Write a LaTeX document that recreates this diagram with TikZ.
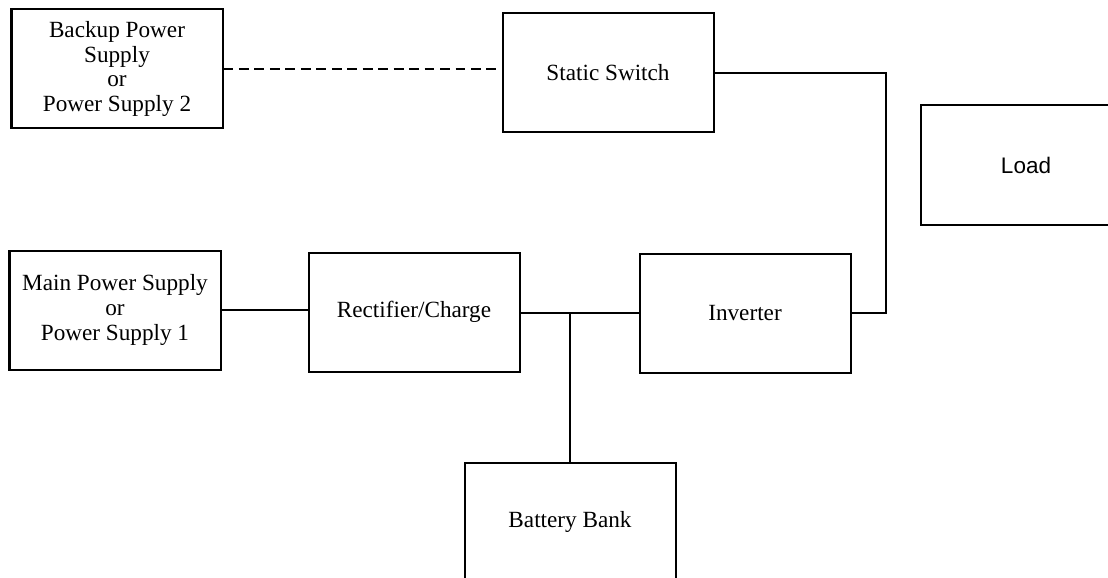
\documentclass[tikz,border=0pt]{standalone}
\usepackage{fontspec}
\setmainfont{Liberation Serif}
\newfontfamily\loadfont{Liberation Sans}
\usepackage{tikz}

\begin{document}
\begin{tikzpicture}[x=0.025cm, y=-0.025cm, line width=0.5mm,
    blk/.style={draw, rectangle, align=center, inner sep=0pt,
      minimum width=211*0.025cm, minimum height=119*0.025cm,
      font=\fontsize{16.5}{17.5}\selectfont}]
    \useasboundingbox (0,0) rectangle (1108,577);
    \clip (0,0) rectangle (1108,577);
    \node[blk](BP)  at ( 117,  69) {Backup Power\\Supply\\or\\Power Supply 2};
    \node[blk](SS)  at ( 608,  73) {Static Switch};
    \node[blk, font=\loadfont\fontsize{16}{17.5}\selectfont](LD) at (1026, 165) {Load};
    \node[blk](MP)  at ( 115, 310) {Main Power Supply\\or\\Power Supply 1};
    \node[blk](RC)  at ( 414, 312) {Rectifier/Charge};
    \node[blk](INV) at ( 745, 313) {Inverter};
    \node[blk](BB)  at ( 570, 522) {Battery Bank};
    \coordinate (C1) at (886, 0);

    \draw[dash pattern=on 7pt off 4pt] (BP.east) -- (SS.west |- BP.east);
    \draw (SS.east) -- (SS.east -| C1) -- (INV.east -| C1) -- (INV.east);
    \draw (MP.east) -- (RC.west |- MP.east);
    \draw (RC.east |- INV.west) -- (INV.west);
    \draw (BB.north |- INV.west) -- (BB.north);
  \end{tikzpicture}
\end{document}
